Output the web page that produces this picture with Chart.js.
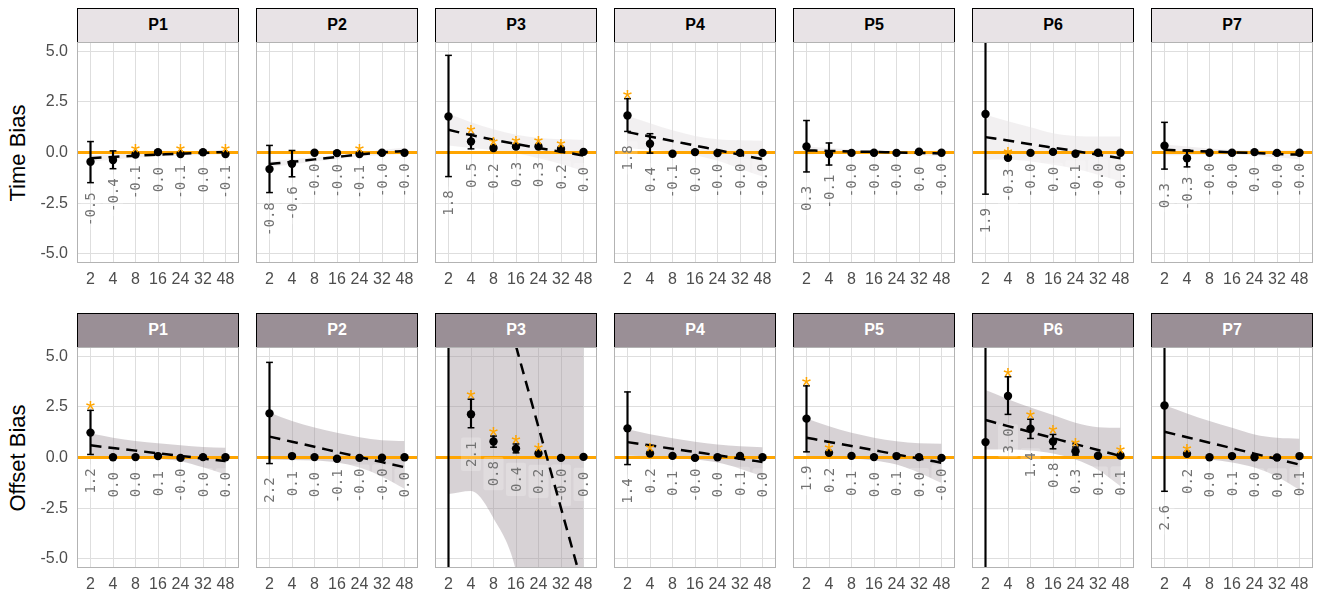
<!DOCTYPE html>
<html>
<head>
<meta charset="utf-8">
<script src="https://cdn.jsdelivr.net/npm/chart.js@4.4.1/dist/chart.umd.min.js"></script>
<style>
  body { margin: 0; background: #fff; }
  #wrap { position: relative; width: 1320px; height: 597px; overflow: hidden; font-family: "Liberation Sans", Arial, sans-serif; }
  .strip { position: absolute; box-sizing: border-box; height: 35px; width: 162px; border: 1.5px solid #000;
           font-weight: bold; font-size: 16px; display: flex; align-items: center; justify-content: center; }
  .ytitle { position: absolute; width: 200px; text-align: center; font-size: 22px; color: #000;
            transform: translate(-50%, -50%) rotate(-90deg); white-space: nowrap; }
  canvas { position: absolute; }
</style>
</head>
<body>
<div id="wrap"></div>
<script>
const categories = ['2', '4', '8', '16', '24', '32', '48'];
const panels = ['P1', 'P2', 'P3', 'P4', 'P5', 'P6', 'P7'];
const yTicks = [-5, -2.5, 0, 2.5, 5];

// ---- Time Bias row ----
const timeMean = [
  [-0.46, -0.37, -0.10, 0.02, -0.08, 0.01, -0.08],
  [-0.82, -0.56, -0.01, -0.03, -0.08, -0.01, -0.01],
  [1.78, 0.54, 0.22, 0.30, 0.30, 0.17, 0.03],
  [1.83, 0.43, -0.06, 0.02, -0.03, -0.02, -0.02],
  [0.30, -0.08, -0.02, -0.01, -0.02, 0.04, -0.01],
  [1.90, -0.26, -0.02, 0.03, -0.06, -0.01, -0.01],
  [0.33, -0.28, -0.01, -0.01, 0.02, -0.02, -0.01]
];
const timeLow = [
  [-1.49, -0.80, -0.16, -0.03, -0.14, -0.04, -0.14],
  [-1.98, -1.20, -0.07, -0.09, -0.14, -0.06, -0.06],
  [-1.19, 0.18, 0.14, 0.22, 0.22, 0.10, -0.03],
  [1.04, -0.03, -0.11, -0.03, -0.08, -0.07, -0.07],
  [-0.96, -0.62, -0.07, -0.06, -0.07, -0.01, -0.06],
  [-2.06, -0.32, -0.07, -0.02, -0.11, -0.06, -0.06],
  [-0.82, -0.71, -0.06, -0.06, -0.03, -0.07, -0.06]
];
const timeHigh = [
  [0.54, 0.08, -0.04, 0.07, -0.02, 0.06, -0.02],
  [0.35, 0.10, 0.05, 0.03, -0.02, 0.04, 0.04],
  [4.80, 0.91, 0.30, 0.38, 0.38, 0.24, 0.09],
  [2.66, 0.93, -0.01, 0.07, 0.02, 0.03, 0.03],
  [1.58, 0.47, 0.03, 0.04, 0.03, 0.09, 0.04],
  [6.50, -0.18, 0.03, 0.08, -0.01, 0.04, 0.04],
  [1.49, 0.13, 0.04, 0.04, 0.07, 0.03, 0.04]
];
const timeStar = [
  [0, 0, 1, 0, 1, 0, 1],
  [0, 0, 0, 0, 1, 0, 0],
  [0, 1, 1, 1, 1, 1, 0],
  [1, 0, 0, 0, 0, 0, 0],
  [0, 0, 0, 0, 0, 0, 0],
  [0, 1, 0, 0, 0, 0, 0],
  [0, 0, 0, 0, 0, 0, 0]
];
const timeTrend = [
  [-0.28, -0.22, -0.16, -0.11, -0.06, -0.02, 0.03],
  [-0.57, -0.46, -0.34, -0.22, -0.10, 0.00, 0.08],
  [1.12, 0.86, 0.63, 0.42, 0.22, 0.04, -0.15],
  [1.01, 0.79, 0.57, 0.34, 0.12, -0.11, -0.33],
  [0.10, 0.08, 0.05, 0.03, 0.00, -0.02, -0.05],
  [0.76, 0.59, 0.41, 0.24, 0.07, -0.11, -0.28],
  [0.13, 0.09, 0.05, 0.01, -0.03, -0.07, -0.11]
];
const timeBandHigh = [
  [-0.12, -0.09, -0.06, -0.02, 0.03, 0.08, 0.15],
  [-0.42, -0.33, -0.23, -0.12, 0.00, 0.12, 0.23],
  [1.90, 1.50, 1.15, 0.88, 0.72, 0.65, 0.62],
  [1.80, 1.45, 1.10, 0.82, 0.65, 0.60, 0.58],
  [0.30, 0.22, 0.15, 0.10, 0.08, 0.08, 0.10],
  [1.87, 1.55, 1.25, 0.95, 0.82, 0.79, 0.79],
  [0.40, 0.30, 0.20, 0.12, 0.10, 0.10, 0.12]
];
const timeBandLow = [
  [-0.44, -0.35, -0.26, -0.20, -0.15, -0.12, -0.09],
  [-0.72, -0.59, -0.45, -0.32, -0.20, -0.12, -0.07],
  [0.34, 0.22, 0.11, -0.04, -0.28, -0.57, -0.92],
  [0.22, 0.13, 0.04, -0.14, -0.41, -0.80, -1.19],
  [-0.10, -0.06, -0.05, -0.04, -0.08, -0.12, -0.20],
  [-0.36, -0.35, -0.45, -0.60, -0.80, -1.10, -1.43],
  [-0.14, -0.12, -0.10, -0.10, -0.16, -0.24, -0.34]
];

// ---- Offset Bias row ----
const offsetMean = [
  [1.23, 0.01, 0.02, 0.07, -0.02, 0.02, 0.01],
  [2.18, 0.07, 0.02, -0.06, -0.02, -0.01, 0.01],
  [22.0, 2.14, 0.79, 0.44, 0.20, -0.02, 0.03],
  [1.44, 0.20, 0.08, -0.02, 0.01, 0.08, 0.01],
  [1.92, 0.23, 0.08, 0.02, 0.07, 0.02, -0.02],
  [0.76, 3.04, 1.42, 0.79, 0.31, 0.09, 0.10],
  [2.57, 0.18, 0.01, 0.07, 0.01, 0.00, 0.07]
];
const offsetLow = [
  [0.15, -0.04, -0.03, 0.02, -0.07, -0.03, -0.04],
  [-0.30, 0.02, -0.03, -0.11, -0.07, -0.06, -0.04],
  [-40, 1.47, 0.51, 0.23, 0.13, -0.07, -0.02],
  [-0.35, 0.15, 0.03, -0.07, -0.04, 0.03, -0.04],
  [0.28, 0.18, 0.03, -0.03, 0.02, -0.03, -0.07],
  [-9.0, 2.13, 0.94, 0.43, 0.12, 0.04, 0.05],
  [-1.67, 0.13, -0.04, 0.02, -0.04, -0.05, 0.02]
];
const offsetHigh = [
  [2.33, 0.06, 0.07, 0.12, 0.03, 0.07, 0.06],
  [4.70, 0.12, 0.07, -0.01, 0.03, 0.04, 0.06],
  [60, 2.88, 1.06, 0.67, 0.27, 0.03, 0.08],
  [3.24, 0.26, 0.13, 0.03, 0.06, 0.13, 0.06],
  [3.54, 0.28, 0.13, 0.07, 0.12, 0.07, 0.03],
  [10.0, 3.99, 1.89, 1.14, 0.52, 0.14, 0.15],
  [8.0, 0.23, 0.06, 0.12, 0.06, 0.05, 0.12]
];
const offsetStar = [
  [1, 0, 0, 0, 0, 0, 0],
  [0, 0, 0, 0, 0, 0, 0],
  [0, 1, 1, 1, 1, 0, 0],
  [0, 1, 0, 0, 0, 0, 0],
  [1, 1, 0, 0, 0, 0, 0],
  [0, 1, 1, 1, 1, 0, 1],
  [0, 1, 0, 0, 0, 0, 0]
];
const offsetTrend = [
  [0.60, 0.47, 0.34, 0.21, 0.08, -0.05, -0.18],
  [1.03, 0.78, 0.53, 0.27, 0.02, -0.23, -0.48],
  [17.5, 13.5, 9.5, 5.5, 1.5, -2.5, -6.5],
  [0.76, 0.60, 0.43, 0.27, 0.11, -0.06, -0.22],
  [0.98, 0.77, 0.57, 0.36, 0.15, -0.05, -0.26],
  [1.85, 1.55, 1.26, 0.96, 0.66, 0.37, 0.07],
  [1.27, 1.00, 0.73, 0.46, 0.19, -0.08, -0.35]
];
const offsetBandHigh = [
  [1.18, 0.98, 0.82, 0.70, 0.60, 0.52, 0.48],
  [2.22, 1.80, 1.48, 1.22, 1.00, 0.85, 0.81],
  [40, 32, 25, 18, 14, 12, 12],
  [1.39, 1.15, 0.95, 0.78, 0.64, 0.55, 0.51],
  [1.93, 1.55, 1.22, 0.98, 0.80, 0.70, 0.68],
  [3.33, 2.88, 2.47, 2.10, 1.72, 1.50, 1.47],
  [2.58, 2.18, 1.80, 1.47, 1.14, 0.97, 0.93]
];
const offsetBandLow = [
  [0.02, 0.00, -0.02, -0.06, -0.18, -0.48, -0.84],
  [-0.10, -0.12, -0.15, -0.25, -0.50, -0.95, -1.54],
  [-1.80, -1.65, -3.00, -5.60, -12, -20, -30],
  [0.10, 0.05, -0.02, -0.10, -0.25, -0.55, -0.93],
  [0.05, 0.00, -0.05, -0.15, -0.35, -0.75, -1.26],
  [0.40, 0.40, 0.35, 0.20, -0.10, -0.60, -1.42],
  [0.05, 0.00, -0.10, -0.25, -0.50, -0.95, -1.59]
];

const rows = [
  { title: 'Time Bias', mean: timeMean, low: timeLow, high: timeHigh, star: timeStar,
    trend: timeTrend, bandHigh: timeBandHigh, bandLow: timeBandLow,
    top: 42, strip: '#e8e3e6', stripText: '#000', band: 'rgba(232,227,230,0.55)' },
  { title: 'Offset Bias', mean: offsetMean, low: offsetLow, high: offsetHigh, star: offsetStar,
    trend: offsetTrend, bandHigh: offsetBandHigh, bandLow: offsetBandLow,
    top: 347, strip: '#9a8f96', stripText: '#fff', band: 'rgba(154,143,150,0.4)' }
];

const panelLeft = [77, 256, 435, 614, 793, 972, 1151];
const panelW = 162, panelH = 221, yAxisW = 60, xAxisH = 30;
const wrap = document.getElementById('wrap');

function makeDecor(mean, low, high, star) {
  return {
    id: 'decor',
    beforeDatasetDraw(chart, args) {
      if (args.index !== 3) return;
      const { ctx, chartArea: a, scales: { x, y } } = chart;
      ctx.save();
      ctx.beginPath();
      ctx.rect(a.left, a.top, a.width, a.height);
      ctx.clip();
      // zero reference line
      const y0 = y.getPixelForValue(0);
      ctx.strokeStyle = '#ffa500';
      ctx.lineWidth = 3;
      ctx.beginPath();
      ctx.moveTo(a.left, y0);
      ctx.lineTo(a.right, y0);
      ctx.stroke();
      // value labels under each error bar
      ctx.font = '14px "DejaVu Sans Mono", monospace';
      ctx.textAlign = 'center';
      ctx.textBaseline = 'middle';
      mean.forEach((m, i) => {
        const txt = m.toFixed(1);
        const px = x.getPixelForValue(i);
        const py = y.getPixelForValue(low[i]) + 26.5;
        const w = ctx.measureText(txt).width;
        ctx.save();
        ctx.translate(px, py);
        ctx.rotate(-Math.PI / 2);
        ctx.fillStyle = 'rgba(255,255,255,0.22)';
        ctx.beginPath();
        ctx.roundRect(-w / 2 - 4, -10, w + 8, 20, 2);
        ctx.fill();
        ctx.fillStyle = '#727272';
        ctx.fillText(txt, 0, 1);
        ctx.restore();
      });
      ctx.restore();
    },
    afterDatasetsDraw(chart) {
      const { ctx, chartArea: a, scales: { x, y } } = chart;
      ctx.save();
      ctx.beginPath();
      ctx.rect(a.left, a.top, a.width, a.height);
      ctx.clip();
      ctx.font = '24px "Liberation Sans", Arial, sans-serif';
      ctx.fillStyle = '#ffa500';
      ctx.textAlign = 'center';
      ctx.textBaseline = 'alphabetic';
      star.forEach((s, i) => {
        if (!s) return;
        const cy = y.getPixelForValue(high[i]) - 6;
        ctx.fillText('*', x.getPixelForValue(i), cy + 13.9);
      });
      ctx.restore();
    },
    afterDraw(chart) {
      const { ctx, chartArea: a } = chart;
      ctx.save();
      ctx.strokeStyle = '#b3b3b3';
      ctx.lineWidth = 1;
      ctx.strokeRect(a.left + 0.5, a.top + 0.5, a.width - 1, a.height - 1);
      ctx.restore();
    }
  };
}

rows.forEach((row, r) => {
  const t = document.createElement('div');
  t.className = 'ytitle';
  t.textContent = row.title;
  t.style.left = '18px';
  t.style.top = (row.top + panelH / 2) + 'px';
  wrap.appendChild(t);

  panels.forEach((name, c) => {
    const s = document.createElement('div');
    s.className = 'strip';
    s.textContent = name;
    s.style.left = panelLeft[c] + 'px';
    s.style.top = (row.top - 34.5) + 'px';
    s.style.background = row.strip;
    s.style.color = row.stripText;
    wrap.appendChild(s);

    const first = c === 0;
    const cv = document.createElement('canvas');
    const w = panelW + (first ? yAxisW : 0);
    const h = panelH + xAxisH;
    cv.width = w; cv.height = h;
    cv.style.width = w + 'px'; cv.style.height = h + 'px';
    cv.style.left = (panelLeft[c] - (first ? yAxisW : 0)) + 'px';
    cv.style.top = row.top + 'px';
    wrap.appendChild(cv);

    const mean = row.mean[c], low = row.low[c], high = row.high[c];
    const idx = categories.map((_, i) => i);
    const pts = arr => idx.map(i => ({ x: i, y: arr[i] }));

    new Chart(cv, {
      type: 'line',
      data: {
        datasets: [
          { type: 'scatter', data: pts(mean), pointRadius: 4.2, pointBackgroundColor: '#000',
            pointBorderWidth: 0, order: 1 },
          { type: 'scatter', data: pts(low).concat(pts(high)), pointStyle: 'line', pointRadius: 3.4,
            pointBorderWidth: 1.5, pointBorderColor: '#000', order: 2 },
          { type: 'bar', data: idx.map(i => ({ x: i, y: [low[i], high[i]] })), barThickness: 1.5,
            backgroundColor: '#000', borderWidth: 0, order: 3 },
          { type: 'line', data: pts(row.trend[c]), borderColor: '#000', borderWidth: 2.5,
            borderDash: [11, 7], pointRadius: 0, cubicInterpolationMode: 'monotone', fill: false, order: 4 },
          { type: 'line', data: pts(row.bandHigh[c]), borderWidth: 0, pointRadius: 0,
            backgroundColor: row.band, fill: '+1', cubicInterpolationMode: 'monotone', order: 5 },
          { type: 'line', data: pts(row.bandLow[c]), borderWidth: 0, pointRadius: 0,
            fill: false, cubicInterpolationMode: 'monotone', order: 6 }
        ]
      },
      options: {
        responsive: false,
        animation: false,
        events: [],
        layout: { padding: 0, autoPadding: false },
        plugins: { legend: { display: false }, tooltip: { enabled: false }, title: { display: false } },
        scales: {
          x: {
            type: 'linear', min: -0.6, max: 6.6, offset: false,
            afterBuildTicks: s => { s.ticks = idx.map(i => ({ value: i })); },
            afterFit: s => { s.height = xAxisH; s.paddingLeft = 0; s.paddingRight = 0; },
            grid: { color: '#dedede', lineWidth: 1, drawTicks: false, offset: false },
            border: { display: false },
            ticks: { padding: 7, autoSkip: false, maxRotation: 0, color: '#4d4d4d',
                     font: { family: '"Liberation Sans", Arial, sans-serif', size: 16 },
                     callback: v => categories[v] }
          },
          y: {
            type: 'linear', min: -5.46, max: 5.46, beginAtZero: false,
            afterBuildTicks: s => { s.ticks = yTicks.map(v => ({ value: v })); },
            afterFit: s => { s.width = first ? yAxisW : 0; s.paddingTop = 0; s.paddingBottom = 0; },
            grid: { color: '#dedede', lineWidth: 1, drawTicks: false, offset: false },
            border: { display: false },
            ticks: { display: first, padding: 9, color: '#4d4d4d',
                     font: { family: '"Liberation Sans", Arial, sans-serif', size: 16 },
                     callback: v => v.toFixed(1) }
          }
        }
      },
      plugins: [makeDecor(mean, low, high, row.star[c])]
    });
  });
});
</script>
</body>
</html>
